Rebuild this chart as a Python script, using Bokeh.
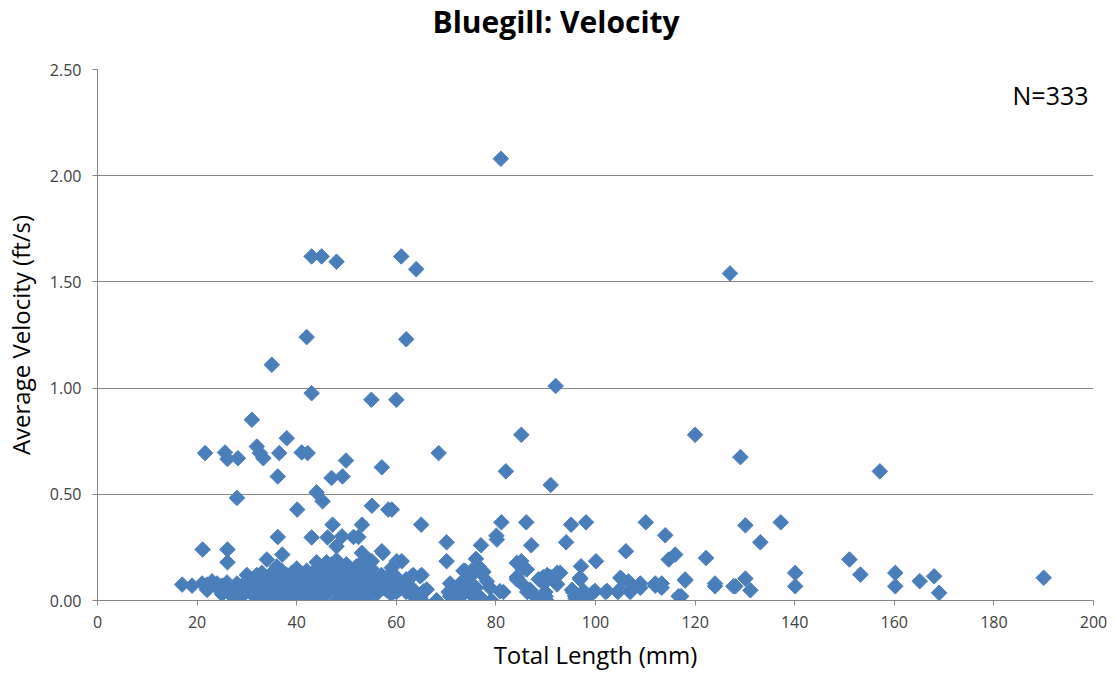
from bokeh.plotting import figure
from bokeh.models import Label, NumeralTickFormatter, FixedTicker, Title
from bokeh.embed import file_html
from bokeh.resources import INLINE

# Total length (mm)
length_mm = [
    81, 43, 45, 48, 61, 64, 127, 35, 42, 62,
    43, 55, 60, 92, 31, 38, 21.6, 25.6, 26.1, 28.2,
    32, 32.6, 33.3, 36.5, 41, 42.2, 49.9, 57.1, 36.2, 47,
    49.2, 44, 45.2, 28, 55.1, 40.1, 47.2, 53.1, 36.2, 43,
    46.2, 49.1, 48, 51.4, 52.4, 21.1, 26.1, 26.1, 34, 37.1,
    53.1, 53.5, 54.5, 57.1, 58.4,
    85.1, 68.5, 82, 91, 59.1, 65, 81.1, 86.1, 95.1, 98.1,
    110.1, 114, 70.1, 80.1, 77, 87.1, 94.1, 106.1, 57.3, 70.1,
    76, 85.1, 100.1, 97.1, 114.7, 116, 60.1, 61.1, 63.4, 65.1,
    73.8, 75.1, 77, 84.2, 86.2, 88.6, 90.3, 92.3, 96.9, 105.3,
    107.3, 109, 112, 113.3, 57.5, 59, 60.5, 62, 65.5, 65.1,
    68.1, 70.5, 71.5, 72, 74, 75, 76, 76.5, 80.8, 86.3,
    90, 90, 95.5, 96, 98, 99.6, 102, 104.5, 107, 116.7,
    120, 129.1, 157.1, 130.1, 137.2, 133.1, 122.2, 118, 117.2, 124,
    124, 128.1, 130.1, 131.1, 140.1, 140.1, 151, 153.2, 160.2, 160.2,
    165.1, 168, 169, 190,
    92.9, 91, 89.5, 96.9, 105, 106.6, 109, 112, 113.3, 118,
    127.7, 92.3, 95.3, 97.6, 99.9, 102.3, 104.8, 106.8, 89.9, 90.2,
    95.9, 98.3, 55.1, 59.1, 76.5, 75.5, 84.2, 85.5, 80.2, 63.1,
    64.8, 61.8, 63.4, 66.1, 64.8, 68.1, 70.8, 72.2, 72.8, 70.8,
    73.5, 74.5, 74.8, 73.5, 77.5, 78.2, 78.8, 81.5, 77.1, 79.1,
    84.2, 85.2, 86.9, 88.2, 89.6, 90.2,
    17, 19, 21, 22, 22, 23, 24, 24, 25, 25,
    26, 26, 27, 27, 28, 28, 29, 29, 30, 30,
    31, 31, 32, 32, 32, 33, 33, 33, 34, 34,
    34, 35, 35, 35, 36, 36, 36, 37, 37, 37,
    38, 38, 38, 39, 39, 39, 40, 40, 40, 40,
    41, 41, 41, 42, 42, 42, 43, 43, 43, 44,
    44, 44, 45, 45, 45, 45, 46, 46, 46, 47,
    47, 47, 48, 48, 48, 48, 49, 49, 49, 50,
    50, 50, 51, 51, 51, 52, 52, 52, 53, 53,
    53, 54, 54, 54, 55, 55, 55, 56, 56, 57,
    57, 58, 58, 59, 59, 60, 60, 61, 62, 62,
    63, 46, 48, 50, 52, 44, 42, 38, 36, 30,
]

# Average velocity (ft/s)
velocity_fts = [
    2.08, 1.62, 1.62, 1.595, 1.62, 1.56, 1.54, 1.11, 1.24, 1.23,
    0.976, 0.945, 0.945, 1.01, 0.851, 0.764, 0.694, 0.697, 0.666, 0.670,
    0.725, 0.694, 0.670, 0.694, 0.697, 0.694, 0.659, 0.627, 0.584, 0.577,
    0.584, 0.509, 0.467, 0.483, 0.446, 0.428, 0.357, 0.357, 0.299, 0.297,
    0.297, 0.302, 0.255, 0.299, 0.299, 0.24, 0.24, 0.18, 0.193, 0.216,
    0.224, 0.19, 0.19, 0.232, 0.428,
    0.780, 0.694, 0.608, 0.544, 0.428, 0.357, 0.368, 0.368, 0.357, 0.368,
    0.368, 0.307, 0.274, 0.305, 0.26, 0.26, 0.274, 0.232, 0.224, 0.185,
    0.196, 0.185, 0.185, 0.161, 0.193, 0.216, 0.185, 0.185, 0.12, 0.12,
    0.14, 0.14, 0.13, 0.099, 0.146, 0.1, 0.12, 0.13, 0.1, 0.1,
    0.07, 0.06, 0.07, 0.06, 0.06, 0.03, 0.05, 0.04, 0.044, 0.0,
    0.0, 0.04, 0.06, 0.0, 0.09, 0.03, 0.06, 0.01, 0.044, 0.04,
    0.02, 0.0, 0.04, 0.01, 0.0, 0.04, 0.04, 0.04, 0.04, 0.02,
    0.780, 0.675, 0.608, 0.354, 0.368, 0.274, 0.2, 0.094, 0.02, 0.08,
    0.067, 0.067, 0.103, 0.048, 0.13, 0.067, 0.193, 0.122, 0.13, 0.067,
    0.091, 0.114, 0.036, 0.107,
    0.13, 0.11, 0.11, 0.107, 0.107, 0.09, 0.08, 0.08, 0.08, 0.099,
    0.067, 0.076, 0.05, 0.045, 0.045, 0.045, 0.05, 0.045, 0.04, 0.0,
    0.02, 0.01, 0.185, 0.154, 0.161, 0.138, 0.177, 0.154, 0.287, 0.114,
    0.114, 0.083, 0.052, 0.052, 0.013, 0.0, 0.08, 0.05, 0.08, 0.02,
    0.03, 0.05, 0.11, 0.14, 0.135, 0.09, 0.06, 0.04, 0.01, 0.0,
    0.11, 0.08, 0.05, 0.01, 0.08, 0.1,
    0.075, 0.07, 0.08, 0.05, 0.075, 0.09, 0.06, 0.08, 0.03, 0.07,
    0.05, 0.085, 0.06, 0.02, 0.08, 0.04, 0.07, 0.02, 0.08, 0.05,
    0.03, 0.1, 0.06, 0.12, 0.01, 0.13, 0.04, 0.08, 0.02, 0.1,
    0.06, 0.13, 0.03, 0.08, 0.11, 0.05, 0.0, 0.14, 0.07, 0.02,
    0.12, 0.09, 0.04, 0.13, 0.06, 0.01, 0.15, 0.1, 0.07, 0.03,
    0.12, 0.08, 0.0, 0.14, 0.05, 0.1, 0.02, 0.12, 0.07, 0.15,
    0.09, 0.04, 0.13, 0.1, 0.06, 0.01, 0.14, 0.08, 0.03, 0.12,
    0.06, 0.17, 0.15, 0.1, 0.04, 0.0, 0.13, 0.07, 0.02, 0.16,
    0.11, 0.05, 0.14, 0.09, 0.0, 0.12, 0.06, 0.02, 0.15, 0.1,
    0.04, 0.13, 0.07, 0.01, 0.11, 0.05, 0.15, 0.09, 0.03, 0.12,
    0.07, 0.1, 0.05, 0.13, 0.08, 0.11, 0.04, 0.07, 0.05, 0.1,
    0.03, 0.18, 0.19, 0.17, 0.16, 0.18, 0.0, 0.0, 0.16, 0.12,
]

x_ticks = [0, 20, 40, 60, 80, 100, 120, 140, 160, 180, 200]
y_ticks = [0.0, 0.5, 1.0, 1.5, 2.0, 2.5]
chart_title = "Bluegill: Velocity"
sample_label = "N=333"

FONT = "Open Sans"
GRAY = "#868686"

p = figure(
    width=1112, height=673,
    x_range=(0, 200), y_range=(0, 2.5),
    output_backend="svg", toolbar_location=None,
    min_border_left=97, min_border_right=19,
    min_border_top=69, min_border_bottom=72,
    title=chart_title,
)
p.title.align = "left"
p.title.vertical_align = "top"
p.title.offset = 335
p.title.standoff = 0
p.title.text_font = FONT
p.title.text_font_size = "30px"
p.title.text_font_style = "bold"
p.title.text_color = "#000000"

# thin empty spacer between the title and the plot area
p.add_layout(Title(text=" ", text_font_size="2px", standoff=22), "above")

p.outline_line_color = None
p.background_fill_color = "white"
p.border_fill_color = "white"

p.xgrid.grid_line_color = None
p.ygrid.grid_line_color = GRAY
p.ygrid.grid_line_width = 1
p.ygrid.ticker = FixedTicker(ticks=y_ticks)

for ax in (p.xaxis[0], p.yaxis[0]):
    ax.axis_line_color = GRAY
    ax.major_tick_line_color = GRAY
    ax.major_tick_out = 5
    ax.major_tick_in = 0
    ax.minor_tick_line_color = None
    ax.major_label_text_font = FONT
    ax.major_label_text_font_size = "16px"
    ax.major_label_text_color = "#404040"
    ax.axis_label_text_font = FONT
    ax.axis_label_text_font_style = "normal"
    ax.axis_label_text_color = "#000000"

p.xaxis.axis_label_text_font_size = "24px"
p.yaxis.axis_label_text_font_size = "24px"
p.xaxis.ticker = FixedTicker(ticks=x_ticks)
p.yaxis.ticker = FixedTicker(ticks=y_ticks)
p.yaxis.formatter = NumeralTickFormatter(format="0.00")
p.xaxis.axis_label = "Total Length (mm)"
p.yaxis.axis_label = "Average Velocity (ft/s)"
p.xaxis.major_label_standoff = 10
p.xaxis.axis_label_standoff = 7
p.yaxis.major_label_standoff = 11
p.yaxis.axis_label_standoff = 10

p.scatter(length_mm, velocity_fts, marker="square", angle=0.785398, size=11,
          fill_color="#4A7EBB", line_color="#4F81BD", line_width=1)

p.add_layout(Label(x=199, y=2.378, text=sample_label, text_align="right",
                   text_baseline="middle", text_font=FONT, text_font_size="25px",
                   text_color="#000000"))

open("out.html", "w").write(file_html(p, INLINE))
